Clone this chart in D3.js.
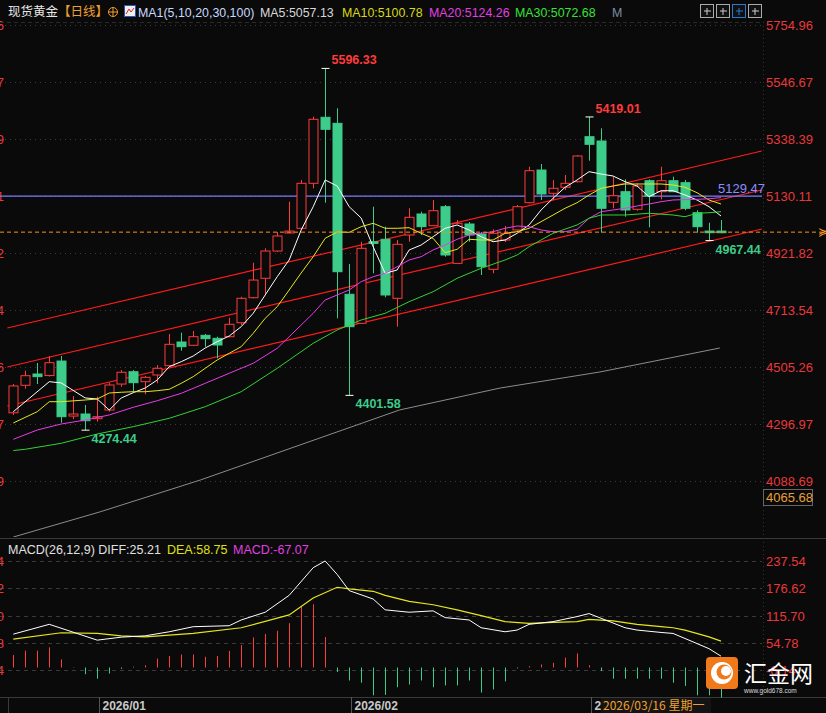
<!DOCTYPE html>
<html><head><meta charset="utf-8">
<script src="https://cdn.jsdelivr.net/npm/d3@7/dist/d3.min.js"></script>
<style>body{margin:0;background:#0a0a0a;overflow:hidden}svg{display:block}</style>
</head><body><svg id="c" width="826" height="713"></svg>
<script>
// OHLC per trading day (index 0..59)
const opens  = [4338,4438.5,4479.7,4474,4527,4326,4333.5,4316.4,4348,4443,4488,4451.6,4476,4510,4596.6,4584.6,4621,4610,4616,4667,4758.5,4829.4,4929,4995,5012,5176.5,5417.7,5395.7,4770.9,4665,4963,4972,4756.3,4987.6,5064.3,5021.6,5091,4884,5027.8,4991.3,4862.3,4969.3,5006,5105.6,5225,5140,5162,5182.4,5346.8,5331,5107,5145.8,5081.5,5186,5145.8,5186,5178.7,5069,5002,5002];
const highs  = [4443,4491.8,4520,4545.5,4545.5,4399.3,4366.5,4396.7,4448,4494.3,4494,4472.4,4512.6,4626,4630.6,4636.8,4626,4616,4685.4,4762,4886.4,4939,4998.6,5109,5188.6,5419.9,5596.33,5450.6,4881.6,4963,5091,5018,4969.3,5085.2,5072.7,5115.5,5097.2,5042.4,5035,4998.6,5008.4,5020.5,5097.2,5237,5247,5188.6,5206.9,5280,5419.01,5377.5,5200.6,5191.1,5176.5,5191.1,5237,5200.6,5188.6,5078,5032.5,5042.4];
const lows   = [4330,4426,4443,4470,4301.7,4315,4274.44,4305.5,4342,4433,4415,4405.5,4445.7,4506.4,4564.8,4582,4579.5,4537,4614,4658.7,4756.3,4768,4925.5,4993.8,5012,5158,5105.6,4683.2,4401.58,4665,4847.6,4760,4652.6,4963,4987.6,5020.5,4908.3,4884,4963,4841.4,4847.6,4962,4998.6,5102.7,5115.5,5115.5,5152,5179.4,5259,4996,5085.2,5054.5,5076.4,5015.8,5118,5144.7,5078,4996,4967.44,4994];
const closes = [4436,4473.5,4470,4521,4323.7,4333.5,4309,4323.7,4439.5,4486,4448,4467.6,4500.5,4588.2,4579.5,4616,4608.7,4585.7,4661.3,4756.3,4823,4929.1,4984,5002,5176.5,5410.4,5373.8,4853.5,4652.6,4939,4957,4768.4,4953.6,5052.3,5018,5076.4,4914.5,5030.4,4987.6,4871.8,4993.8,4993.8,5091,5222.6,5137.4,5158.3,5176.5,5276.3,5319,5085.2,5131.2,5079,5166.7,5130.1,5186,5145.8,5085.2,5018,4996,4996];
// moving averages: [index, value]
const ma5  = [[0,4342],[3,4451.6],[4,4447],[6,4392],[7,4388.4],[8,4348],[9,4392],[10,4411.4],[11,4428.6],[12,4457.8],[13,4506.4],[14,4524.7],[15,4545.5],[16,4574.7],[17,4597.7],[18,4618.6],[19,4652.6],[20,4701.5],[21,4768.4],[22,4835.2],[23,4896.3],[24,5005.9],[25,5091],[26,5188.6],[27,5166.7],[28,5091],[29,5049.7],[30,4944.9],[31,4847.6],[32,4859.7],[33,4932.8],[34,4951],[35,4981.4],[36,5012.1],[37,5024.2],[38,5005.9],[39,4981.4],[40,4963.1],[41,4969.3],[42,4993.8],[43,5024.2],[44,5079],[45,5121.7],[46,5162],[47,5188.6],[48,5219],[49,5210.5],[50,5203.2],[51,5182.4],[52,5166.7],[53,5127.6],[54,5149.5],[55,5149.5],[56,5133.8],[57,5115.5],[58,5091],[59,5057.13]];
const ma10 = [[0,4300.7],[2,4342],[3,4378.5],[4,4378.5],[6,4384.7],[7,4388.4],[8,4410.3],[9,4412.9],[10,4415],[11,4415],[12,4418.7],[13,4423.8],[14,4445.7],[15,4470],[16,4500.5],[17,4530.9],[18,4555.3],[19,4579.5],[20,4628.4],[21,4683.2],[22,4725.6],[23,4786.6],[24,4848.8],[25,4908.3],[26,4975.5],[27,4998.6],[28,4997.5],[29,5018],[30,5030.4],[31,5012.1],[32,5012.1],[33,5014.3],[34,4993.8],[35,4975.5],[36,4923],[37,4935.3],[38,4971.9],[39,4969.3],[40,4969.3],[41,4993.8],[42,4999.7],[43,5012.1],[44,5036.2],[45,5060.7],[46,5085.2],[47,5105.6],[48,5133.8],[49,5158.3],[50,5166.7],[51,5174],[52,5174],[53,5174],[54,5174],[55,5170.3],[56,5162],[57,5142.2],[58,5115.5],[59,5100.78]];
const ma20 = [[0,4241],[2,4275],[4,4297],[6,4311.6],[8,4330],[10,4358],[12,4382],[14,4409],[16,4445.7],[18,4482.3],[20,4518.8],[22,4573.6],[23,4616],[25,4701.5],[26,4750.1],[27,4768.4],[28,4786.6],[29,4817],[30,4835.2],[31,4847.6],[32,4871.8],[33,4896.3],[34,4908.3],[35,4932.8],[36,4951],[37,4971.9],[38,4987.6],[39,4993.8],[40,4999.7],[41,5012.1],[42,5020.5],[43,5018],[44,5005.9],[45,4999.7],[46,4999.7],[47,5008.4],[48,5048.7],[49,5072.7],[50,5079],[51,5085.2],[52,5093.6],[53,5100.9],[54,5109.3],[55,5115.5],[56,5117],[57,5118],[58,5120],[59,5124.26]];
const ma30 = [[0,4200],[1,4204.6],[4,4226.5],[7,4260.4],[10,4287.2],[13,4317.8],[16,4360.2],[19,4415],[22,4500.5],[25,4591.9],[27,4640.5],[29,4677],[31,4701.5],[33,4744],[35,4780.4],[37,4829.4],[39,4865.9],[41,4896.3],[42,4914.5],[43,4944.9],[45,4993.8],[47,5024.2],[48,5048.7],[49,5060.7],[51,5060.7],[53,5067],[55,5060.7],[56,5054.5],[57,5067],[58,5069],[59,5072.68]];
const ma100 = [[0,3884],[7.2,3975.5],[15.6,4092.4],[23.9,4220.3],[32.2,4348.2],[40.6,4428.5],[48.9,4487],[58.9,4574.7]];
// trend channel lines [[idx,price],[idx,price]]
const channels = [[[-0.5,4647.8],[62.4,5294.6]],[[-0.5,4505.3],[62.4,5152]],[[-0.5,4362.8],[62.4,5009.5]]];
const priceTicks = [5754.96,5546.67,5338.39,5130.11,4921.82,4713.54,4505.26,4296.97,4088.69];
const hLine = 5129.47, lastPrice = 4998;
// MACD
const macdHist = [27.8,37.6,37.6,45,18,1,-15,-25,-13.5,-3,2,5,20,25.6,29,29,24,25.6,37,50,67,75,82,99,135,141,68,-10,-29,-34,-62,-61,-44,-38,-29,-44,-40,-40,-29,-56,-49,-31,-2,3,6.8,10.5,22,31.6,5,-8,-25,-25,-25,-25,-25,-34,-41,-62,-62,-67.07];
const diff = [[0,74.4],[3,96.3],[7,61],[9,67.7],[11,70.7],[13,79.7],[15,91],[18,93.2],[19,106],[21,123.3],[23,161],[25,222.6],[26,237.6],[27,207.6],[28,171.5],[30,152.7],[31,128.6],[33,123.3],[35,126.3],[36,111.3],[38,106],[39,88.7],[41,79.7],[42,83.5],[43,96.3],[45,102.3],[47,113.6],[48,120.3],[49,109.8],[51,88.7],[52,83.5],[54,78.2],[55,76],[56,64.7],[58,42],[59,25.21]];
const dea = [[0,63.2],[4,77.5],[7,76],[9,70.7],[11,68.4],[15,76],[19,88.7],[23,117.3],[25,155],[27,179],[28,175.2],[30,170],[31,161],[33,147.4],[35,140],[37,128.6],[39,115.8],[41,102.3],[43,98.5],[45,100.8],[47,102.3],[48,107.5],[50,103.8],[52,96.3],[54,91],[55,88.7],[56,83.5],[58,68.4],[59,58.75]];
const macdTicks = [237.54,176.62,115.70,54.78,-6.14];
const dateTicks = [[7,"2026/01"],[28,"2026/02"],[48,"2"]];

const svg = d3.select("#c");
const F = "'Liberation Sans', Arial, sans-serif";
const CJK = "'Noto Sans CJK SC', sans-serif";
const RED = "#ff3b3b", GREEN = "#3dcc8a", AX = "#e8383c";
const x = d3.scaleLinear().domain([0,59]).range([13.3,721]);
const y = d3.scaleLinear().domain([4088.69,5754.96]).range([481,25]);
const ym = d3.scaleLinear().domain([0,237.54]).range([667.5,561]);

svg.append("line").attr("x1",0).attr("x2",826).attr("y1",538.5).attr("y2",538.5).attr("stroke","#3a3a3a");
svg.append("line").attr("x1",0).attr("x2",826).attr("y1",697.5).attr("y2",697.5).attr("stroke","#3a3a3a");
svg.append("line").attr("x1",763.5).attr("x2",763.5).attr("y1",22).attr("y2",697).attr("stroke","#333").attr("stroke-dasharray","1,3");
svg.append("line").attr("x1",8.5).attr("x2",8.5).attr("y1",697).attr("y2",713).attr("stroke","#3a3a3a");

const main = svg.append("g");
main.selectAll(".g").data(priceTicks).join("line").attr("x1",0).attr("x2",762)
  .attr("y1",d=>Math.round(y(d))+0.5).attr("y2",d=>Math.round(y(d))+0.5).attr("stroke","#3a3a3a").attr("stroke-dasharray","1,4");
main.selectAll(".t").data(priceTicks).join("text").attr("x",766).attr("y",d=>y(d)+5)
  .attr("fill",AX).attr("font-family",F).attr("font-size",13).text(d=>d.toFixed(2));
main.selectAll(".l").data(priceTicks).join("text").attr("x",4).attr("y",d=>y(d)+5).attr("text-anchor","end")
  .attr("fill",AX).attr("font-family",F).attr("font-size",13).text(d=>d.toFixed(2));
svg.append("rect").attr("x",763.5).attr("y",489.5).attr("width",49).attr("height",16).attr("fill","#0a0a0a").attr("stroke","#666");
svg.append("text").attr("x",766).attr("y",502).attr("fill","#e8a03a").attr("font-family",F).attr("font-size",13).text("4065.68");

svg.append("defs").append("clipPath").attr("id","cp").append("rect").attr("x",0).attr("y",22).attr("width",762).attr("height",515);
const pg = svg.append("g").attr("clip-path","url(#cp)");

const line = d3.line().x(d=>x(d[0])).y(d=>y(d[1]));
pg.append("path").attr("d",line(ma100)).attr("fill","none").attr("stroke","#8c8c8c").attr("stroke-width",1);
channels.forEach(c=>pg.append("path").attr("d",line(c)).attr("stroke","#ff1a1a").attr("stroke-width",1.2));
pg.append("line").attr("x1",0).attr("x2",762).attr("y1",y(hLine)).attr("y2",y(hLine)).attr("stroke","#7b7bff").attr("stroke-width",1.2);
svg.append("line").attr("x1",0).attr("x2",826).attr("y1",y(lastPrice)).attr("y2",y(lastPrice)).attr("stroke","#ff8c1a").attr("stroke-dasharray","4,3");
svg.append("text").attr("x",818).attr("y",y(lastPrice)+4).attr("fill","#ff9a2a").attr("font-family",F).attr("font-size",12).text("≽");

const idx = d3.range(opens.length);
const cg = pg.append("g");
cg.selectAll(".w").data(idx).join("line")
  .attr("x1",i=>Math.round(x(i))+0.5).attr("x2",i=>Math.round(x(i))+0.5)
  .attr("y1",i=>y(highs[i])).attr("y2",i=>y(lows[i]))
  .attr("stroke",i=>closes[i]>=opens[i]?RED:GREEN);
cg.selectAll(".b").data(idx).join("rect")
  .attr("x",i=>Math.round(x(i))-4).attr("width",9)
  .attr("y",i=>y(Math.max(opens[i],closes[i])))
  .attr("height",i=>Math.max(1.5,Math.abs(y(opens[i])-y(closes[i]))))
  .attr("fill",i=>closes[i]>=opens[i]?"#0a0a0a":GREEN)
  .attr("stroke",i=>closes[i]>=opens[i]?RED:GREEN);

[[ma5,"#ffffff"],[ma10,"#e6e61e"],[ma20,"#e83ce8"],[ma30,"#32d232"]].forEach(([d,c])=>
  pg.append("path").attr("d",line(d)).attr("fill","none").attr("stroke",c).attr("stroke-width",1));

const marks = [[26,5596.33,"top",RED],[28,4401.58,"bot",GREEN],[48,5419.01,"top",RED],[6,4274.44,"bot",GREEN],[58,4967.44,"bot",GREEN]];
marks.forEach(([i,v,p,c])=>{
  const px=Math.round(x(i))+0.5, py=y(v);
  svg.append("line").attr("x1",px-4).attr("x2",px+4).attr("y1",py).attr("y2",py).attr("stroke","#fff");
  svg.append("text").attr("x",px+6).attr("y",p=="top"?py-4:py+13).attr("fill",c).attr("font-family",F)
    .attr("font-weight","bold").attr("font-size",12.5).text(v.toFixed(2));
});
svg.append("text").attr("x",718).attr("y",y(hLine)-3).attr("fill","#8c8cff").attr("font-family",F).attr("font-size",13).text(hLine.toFixed(2));

const hd = svg.append("text").attr("y",16).attr("font-size",12.5).attr("font-family",CJK);
hd.append("tspan").attr("x",8).attr("fill","#e6e6e6").text("现货黄金");
hd.append("tspan").attr("fill","#f0a030").text("【日线】");
svg.append("circle").attr("cx",113).attr("cy",12).attr("r",4.5).attr("fill","none").attr("stroke","#f0a030");
svg.append("path").attr("d","M108.5,12H117.5M113,7.5V16.5").attr("stroke","#f0a030");
svg.append("rect").attr("x",124.5).attr("y",5.5).attr("width",11).attr("height",11).attr("fill","#eee").attr("stroke","#3050c0");
svg.append("path").attr("d","M126,14L129,9L131,12L134,8").attr("stroke","#e02020").attr("fill","none");
const hd2 = svg.append("text").attr("y",17).attr("font-size",12.4).attr("font-family",F);
hd2.append("tspan").attr("x",138).attr("fill","#c8d8ff").text("MA1(5,10,20,30,100)");
hd2.append("tspan").attr("x",260).attr("fill","#d8d8d8").text("MA5:5057.13");
hd2.append("tspan").attr("x",342).attr("fill","#d8d818").text("MA10:5100.78");
hd2.append("tspan").attr("x",429).attr("fill","#e040e0").text("MA20:5124.26");
hd2.append("tspan").attr("x",515).attr("fill","#38e038").text("MA30:5072.68");
hd2.append("tspan").attr("x",612).attr("fill","#7a8aa0").text("M");
svg.append("line").attr("x1",0).attr("x2",762).attr("y1",22.5).attr("y2",22.5).attr("stroke","#2a2a2a").attr("stroke-dasharray","4,3");
[700,716,732,748].forEach((bx,k)=>{
  svg.append("rect").attr("x",bx+0.5).attr("y",4.5).attr("width",13).attr("height",13).attr("fill","#111").attr("stroke",k==2?"#2a7ad0":"#aaa");
  svg.append("path").attr("d",`M${bx+4},${11}H${bx+11}M${bx+7},8V15`).attr("stroke",k==2?"#2a7ad0":"#ccc");
});

const mg = svg.append("g");
mg.selectAll(".mg").data(macdTicks).join("line").attr("x1",0).attr("x2",762)
  .attr("y1",d=>Math.round(ym(d))+0.5).attr("y2",d=>Math.round(ym(d))+0.5).attr("stroke","#3a3a3a").attr("stroke-dasharray","4,4");
mg.selectAll(".mt").data(macdTicks).join("text").attr("x",766).attr("y",d=>ym(d)+5)
  .attr("fill",AX).attr("font-family",F).attr("font-size",13).text(d=>d.toFixed(2));
mg.selectAll(".ml").data(macdTicks).join("text").attr("x",4).attr("y",d=>ym(d)+5).attr("text-anchor","end")
  .attr("fill",AX).attr("font-family",F).attr("font-size",13).text(d=>d.toFixed(2));
mg.selectAll(".h").data(idx).join("line")
  .attr("x1",i=>Math.round(x(i))+0.5).attr("x2",i=>Math.round(x(i))+0.5)
  .attr("y1",ym(0)).attr("y2",i=>ym(macdHist[i]))
  .attr("stroke",i=>macdHist[i]>=0?RED:GREEN);
const ml = d3.line().x(d=>x(d[0])).y(d=>ym(d[1]));
mg.append("path").attr("d",ml(dea)).attr("fill","none").attr("stroke","#e6e61e").attr("stroke-width",1.2);
mg.append("path").attr("d",ml(diff)).attr("fill","none").attr("stroke","#ffffff").attr("stroke-width",1);
const mh = svg.append("text").attr("y",554).attr("font-size",12.5).attr("font-family",F);
mh.append("tspan").attr("x",8).attr("fill","#e0e0e0").text("MACD(26,12,9) DIFF:25.21");
mh.append("tspan").attr("x",167).attr("fill","#e0e018").text("DEA:58.75");
mh.append("tspan").attr("x",233).attr("fill","#e040e0").text("MACD:-67.07");

dateTicks.forEach(([i,t])=>{
  const px = Math.round(x(i)+2)+0.5;
  svg.append("line").attr("x1",px).attr("x2",px).attr("y1",697).attr("y2",713).attr("stroke","#555");
  svg.append("text").attr("x",px+3).attr("y",710).attr("fill","#c8c8c8").attr("font-family",F).attr("font-weight","bold").attr("font-size",12).text(t);
});
svg.append("rect").attr("x",601).attr("y",698).attr("width",110).attr("height",15).attr("fill","#141414");
svg.append("text").attr("x",603).attr("y",710).attr("fill","#f0a030").attr("font-family",CJK).attr("font-size",12).text("2026/03/16 星期一");

const lg = svg.append("g");
lg.append("rect").attr("x",706).attr("y",657).attr("width",32).attr("height",32).attr("rx",4).attr("fill","#f07a1a");
lg.append("circle").attr("cx",722).attr("cy",673).attr("r",11).attr("fill","#fff");
lg.append("circle").attr("cx",724).attr("cy",672).attr("r",7.5).attr("fill","#f07a1a");
lg.append("circle").attr("cx",726).attr("cy",671).attr("r",5).attr("fill","#fff");
lg.append("text").attr("x",744).attr("y",682).attr("fill","#fff").attr("font-family",CJK).attr("font-size",23).text("汇金网");
lg.append("text").attr("x",744).attr("y",693).attr("fill","#ddd").attr("font-family",F).attr("font-size",6.5).text("www.gold678.com");
</script></body></html>
